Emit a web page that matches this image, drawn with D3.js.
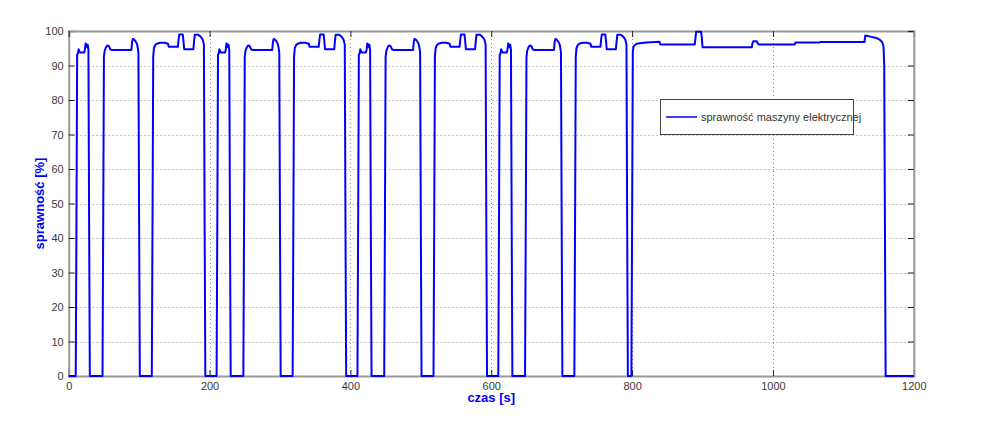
<!DOCTYPE html>
<html><head><meta charset="utf-8">
<script src="https://cdn.jsdelivr.net/npm/d3@7"></script>
<style>
body{margin:0;background:#fff}
svg{display:block}
text{font-family:"Liberation Sans",Arial,sans-serif}
</style></head>
<body><svg id="c" width="993" height="421"></svg>
<script>
// time [s], efficiency [%]
const cycle1 = [[0,0],[10,0],[11,44],[12,93.2],[13,93.4],[14,94.7],[15,94.2],[16,93.8],[22,93.8],[23,94.6],[24,96.4],[25,96.2],[26,95.3],[27,96.0],[28,94.5],[29,44],[30,0],
  [48,0],[49,44],[50,92.5],[51,94.2],[53,95.3],[55,95.8],[57,95.6],[59,94.7],[61,94.5],[89,94.5],[90,96.8],[91,97.7],[93,97.5],[95,97.0],[97,96.2],[98,95.2],[99,93.8],[100,44],[101,0],
  [118,0],[119,44],[120,92.5],[121,95.0],[123,96.0],[126,96.4],[130,96.6],[136,96.6],[141,96.3],[142,95.4],[155,95.4],[156,97.5],[157,99.0],[162,99.0],[163,97.0],[164,94.7],[177,94.7],[178,97.0],[179,98.9],[184,98.9],[186,98.6],[188,98.2],[190,97.6],[191,97.0],[192,96.0],[193,44],[194,0]];
const cycle2 = [[200,0],[210,0],[211,44],[212,93.2],[213,93.4],[214,94.7],[215,94.2],[216,93.8],[222,93.8],[223,94.6],[224,96.4],[225,96.2],[226,95.3],[227,96.0],[228,94.5],[229,44],[230,0],
  [248,0],[249,44],[250,92.5],[251,94.2],[253,95.3],[255,95.8],[257,95.6],[259,94.7],[261,94.5],[289,94.5],[290,96.8],[291,97.7],[293,97.5],[295,97.0],[297,96.2],[298,95.2],[299,93.8],[300,44],[301,0],
  [318,0],[319,44],[320,92.5],[321,95.0],[323,96.0],[326,96.4],[330,96.6],[336,96.6],[341,96.3],[342,95.4],[355,95.4],[356,97.5],[357,99.0],[362,99.0],[363,97.0],[364,94.7],[377,94.7],[378,97.0],[379,98.9],[384,98.9],[386,98.6],[388,98.2],[390,97.6],[391,97.0],[392,96.0],[393,44],[394,0]];
const cycle3 = [[400,0],[410,0],[411,44],[412,93.2],[413,93.4],[414,94.7],[415,94.2],[416,93.8],[422,93.8],[423,94.6],[424,96.4],[425,96.2],[426,95.3],[427,96.0],[428,94.5],[429,44],[430,0],
  [448,0],[449,44],[450,92.5],[451,94.2],[453,95.3],[455,95.8],[457,95.6],[459,94.7],[461,94.5],[489,94.5],[490,96.8],[491,97.7],[493,97.5],[495,97.0],[497,96.2],[498,95.2],[499,93.8],[500,44],[501,0],
  [518,0],[519,44],[520,92.5],[521,95.0],[523,96.0],[526,96.4],[530,96.6],[536,96.6],[541,96.3],[542,95.4],[555,95.4],[556,97.5],[557,99.0],[562,99.0],[563,97.0],[564,94.7],[577,94.7],[578,97.0],[579,98.9],[584,98.9],[586,98.6],[588,98.2],[590,97.6],[591,97.0],[592,96.0],[593,44],[594,0]];
const cycle4 = [[600,0],[610,0],[611,44],[612,93.2],[613,93.4],[614,94.7],[615,94.2],[616,93.8],[622,93.8],[623,94.6],[624,96.4],[625,96.2],[626,95.3],[627,96.0],[628,94.5],[629,44],[630,0],
  [648,0],[649,44],[650,92.5],[651,94.2],[653,95.3],[655,95.8],[657,95.6],[659,94.7],[661,94.5],[689,94.5],[690,96.8],[691,97.7],[693,97.5],[695,97.0],[697,96.2],[698,95.2],[699,93.8],[700,44],[701,0],
  [718,0],[719,44],[720,92.5],[721,95.0],[723,96.0],[726,96.4],[730,96.6],[736,96.6],[741,96.3],[742,95.4],[755,95.4],[756,97.5],[757,99.0],[762,99.0],[763,97.0],[764,94.7],[777,94.7],[778,97.0],[779,98.9],[784,98.9],[786,98.6],[788,98.2],[790,97.6],[791,97.0],[792,96.0],[793,44],[794,0]];
const eudc = [[799,0],[800,44],[801,94.0],[802,95.5],[804,96.0],[808,96.4],[820,96.7],[839,96.9],[840,96.1],[889,96.1],[890,98.0],[891,99.8],[898,99.8],[899,98.0],[900,95.3],[970,95.3],[971,96.5],[972,97.0],[977,97.0],[978,96.5],[980,96.1],[1031,96.1],[1032,96.7],[1066,96.7],[1067,96.8],[1130,96.8],[1131,98.7],[1140,98.3],[1148,97.9],[1152,97.4],[1155,96.8],[1157,95.5],[1158,90.0],[1159,44],[1160,0],[1200,0]];

const xTicks = [0,200,400,600,800,1000,1200];
const yTicks = [0,10,20,30,40,50,60,70,80,90,100];
const xLabel = "czas [s]";
const yLabel = "sprawność [%]";
const legendLabel = "sprawność maszyny elektrycznej";

const svg = d3.select("#c");
const L=68.7, R=913.8, T=31, B=376;
const x = d3.scaleLinear().domain([0,1200]).range([L,R]);
const y = d3.scaleLinear().domain([0,100]).range([B,T]);

// grid
const g = svg.append("g");
g.selectAll("line.gx").data(xTicks.slice(1,-1)).enter().append("line")
  .attr("x1",d=>Math.round(x(d))+0.5).attr("x2",d=>Math.round(x(d))+0.5).attr("y1",T).attr("y2",B)
  .attr("stroke","#888").attr("stroke-width",1).attr("stroke-dasharray","1,3");
g.selectAll("line.gy").data(yTicks.slice(1,-1)).enter().append("line")
  .attr("y1",d=>Math.round(y(d))+0.5).attr("y2",d=>Math.round(y(d))+0.5).attr("x1",L).attr("x2",R)
  .attr("stroke","#888").attr("stroke-width",1).attr("stroke-dasharray","1,3");

// axes (MATLAB style, ticks inward)
const axB = d3.axisBottom(x).tickValues(xTicks).tickSize(-6).tickPadding(6).tickFormat(d3.format("d"));
const axL = d3.axisLeft(y).tickValues(yTicks).tickSize(-6).tickPadding(5).tickFormat(d3.format("d"));
const axT = d3.axisTop(x).tickValues(xTicks).tickSize(-6).tickFormat("");
const axR = d3.axisRight(y).tickValues(yTicks).tickSize(-6).tickFormat("");
function style(sel){
  sel.select(".domain").attr("stroke","#999").attr("stroke-width",2);
  sel.selectAll(".tick line").attr("stroke","#222");
  sel.selectAll(".tick text").attr("fill","#3a3a3a").style("font-size","11px").style("font-family","'Liberation Sans',Arial,sans-serif");
}
svg.append("g").attr("transform",`translate(0,${B})`).call(axB).call(style);
svg.append("g").attr("transform",`translate(${L},0)`).call(axL).call(style);
svg.append("g").attr("transform",`translate(0,${T})`).call(axT).call(style);
svg.append("g").attr("transform",`translate(${R},0)`).call(axR).call(style);

// data line
const data = [].concat(cycle1, cycle2, cycle3, cycle4, eudc);
const line = d3.line().x(d=>x(d[0])).y(d=>y(d[1]));
svg.append("path").datum(data).attr("d",line).attr("fill","none")
  .attr("stroke","#0000ff").attr("stroke-width",2).attr("stroke-linejoin","round");

// labels
svg.append("text").attr("x",(L+R)/2).attr("y",402).attr("text-anchor","middle")
  .attr("fill","#0000ff").style("font-weight","bold").style("font-size","13px").text(xLabel);
svg.append("text").attr("transform",`translate(44,${(T+B)/2}) rotate(-90)`).attr("text-anchor","middle")
  .attr("fill","#0000ff").style("font-weight","bold").style("font-size","13px").text(yLabel);

// legend
const lg = svg.append("g");
lg.append("rect").attr("x",660.5).attr("y",99.5).attr("width",193).attr("height",35)
  .attr("fill","#fff").attr("stroke","#444").attr("stroke-width",1);
lg.append("line").attr("x1",666).attr("x2",697).attr("y1",117).attr("y2",117)
  .attr("stroke","#0000ff").attr("stroke-width",1.5);
lg.append("text").attr("x",701).attr("y",121).attr("fill","#333").style("font-size","11px").text(legendLabel);
</script></body></html>
